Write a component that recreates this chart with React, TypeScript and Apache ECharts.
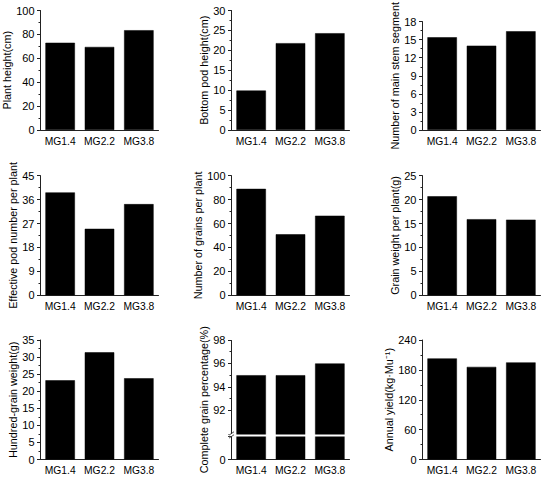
import React, { useEffect, useRef } from 'react';
import * as echarts from 'echarts';

const categories = ['MG1.4', 'MG2.2', 'MG3.8'];

const plantHeight = [73, 69.5, 83.5];
const bottomPodHeight = [9.9, 21.8, 24.3];
const mainStemSegments = [15.4, 14.0, 16.4];
const effectivePods = [38.7, 25.0, 34.3];
const grainsPerPlant = [89, 51, 66.5];
const grainWeight = [20.7, 15.9, 15.8];
const hundredGrainWeight = [23.2, 31.4, 23.8];
const completeGrain = [95, 95, 96];
const annualYield = [203, 186, 195];

const seriesData = [
  plantHeight, bottomPodHeight, mainStemSegments,
  effectivePods, grainsPerPlant, grainWeight,
  hundredGrainWeight, completeGrain, annualYield,
];

const titles = [
  'Plant height(cm)', 'Bottom pod height(cm)', 'Number of main stem segment',
  'Effective pod number per plant', 'Number of grains per plant', 'Grain weight per plant(g)',
  'Hundred-grain weight(g)', 'Complete grain percentage(%)', 'Annual yield(kg·Mu⁻¹)',
];

const yMax = [100, 30, 18, 45, 100, 25, 35, 98, 240];
const yInterval = [20, 5, 3, 9, 20, 5, 5, 2, 60];

// broken axis for panel 8
const breakStart = 2;
const breakEnd = 90;

const colLeft = [40.5, 231.5, 422.5];
const rowTop = [10.5, 175.7, 340];
const gridW = 118;
const gridH = 119.5;
const nameGaps = [25.5, 19, 19.5, 19, 23.5, 18.5, 19.5, 19, 23.5];

const FONT = 'Arial, "Liberation Sans", Helvetica, sans-serif';
const FS_TICK = 11;
const FS_CAT = 10.3;
const FS_NAME = 10.8;

export default function App() {
  const ref = useRef<HTMLDivElement>(null);

  useEffect(() => {
    if (!ref.current) return;
    const chart = echarts.init(ref.current, undefined, { renderer: 'svg' });

    const grid: any[] = [];
    const xAxis: any[] = [];
    const yAxis: any[] = [];
    const series: any[] = [];

    for (let i = 0; i < 9; i++) {
      const r = Math.floor(i / 3);
      const c = i % 3;
      grid.push({ left: colLeft[c], top: rowTop[r], width: gridW, height: gridH, containLabel: false });
      xAxis.push({
        type: 'category',
        gridIndex: i,
        data: categories,
        axisLine: { show: true, lineStyle: { color: '#222', width: 1 } },
        axisTick: { show: false },
        axisLabel: { color: '#000', fontSize: FS_CAT, fontFamily: FONT, margin: 6, interval: 0, hideOverlap: false },
        splitLine: { show: false },
      });
      const y: any = {
        type: 'value',
        gridIndex: i,
        min: 0,
        max: yMax[i],
        interval: yInterval[i],
        name: titles[i],
        nameLocation: 'middle',
        nameRotate: 90,
        nameGap: nameGaps[i],
        nameTextStyle: { color: '#000', fontSize: FS_NAME, fontFamily: FONT },
        axisLine: { show: true, lineStyle: { color: '#222', width: 1 } },
        axisTick: { show: true, inside: false, length: 3.5, lineStyle: { color: '#222' } },
        minorTick: { show: true, splitNumber: 2, length: 2, lineStyle: { color: '#222' } },
        splitLine: { show: false },
        minorSplitLine: { show: false },
        axisLabel: { color: '#000', fontSize: FS_TICK, fontFamily: FONT, margin: 6 },
      };
      if (i === 7) {
        y.breaks = [{ start: breakStart, end: breakEnd, gap: '1.8%' }];
        y.breakArea = {
          show: true,
          zigzagAmplitude: 0,
          zigzagZ: 200,
          expandOnClick: false,
          itemStyle: { color: '#fff', opacity: 1, borderColor: '#fff', borderWidth: 0 },
        };
        y.axisLabel.formatter = (v: number) => (v === 0 || v > breakEnd ? String(v) : '');
      }
      yAxis.push(y);
      series.push({
        type: 'bar',
        xAxisIndex: i,
        yAxisIndex: i,
        data: seriesData[i],
        barWidth: '75%',
        itemStyle: { color: '#000', borderColor: '#000', borderWidth: 0.5 },
      });
    }

    chart.setOption({
      animation: false,
      backgroundColor: '#fff',
      textStyle: { fontFamily: FONT },
      grid,
      xAxis,
      yAxis,
      series,
    });

    // axis break marks on panel 8's y axis
    try {
      const p0 = chart.convertToPixel({ yAxisIndex: 7 }, breakStart) as number;
      const p1 = chart.convertToPixel({ yAxisIndex: 7 }, breakEnd) as number;
      const yc = (p0 + p1) / 2;
      const xc = colLeft[1];
      chart.setOption({
        graphic: [
          { type: 'rect', z: 300, shape: { x: xc - 3, y: yc - 1.2, width: 6, height: 2.4 }, style: { fill: '#fff' } },
          { type: 'line', z: 301, shape: { x1: xc - 2.5, y1: yc + 0.2, x2: xc + 2.5, y2: yc - 3.2 }, style: { stroke: '#222', lineWidth: 0.8 } },
          { type: 'line', z: 301, shape: { x1: xc - 2.5, y1: yc + 3.2, x2: xc + 2.5, y2: yc - 0.2 }, style: { stroke: '#222', lineWidth: 0.8 } },
        ],
      });
    } catch (e) {
      // ignore
    }

    return () => chart.dispose();
  }, []);

  return (
    <div
      ref={ref}
      style={{ position: 'fixed', left: 0, top: 0, width: 550, height: 479, background: '#fff' }}
    />
  );
}
